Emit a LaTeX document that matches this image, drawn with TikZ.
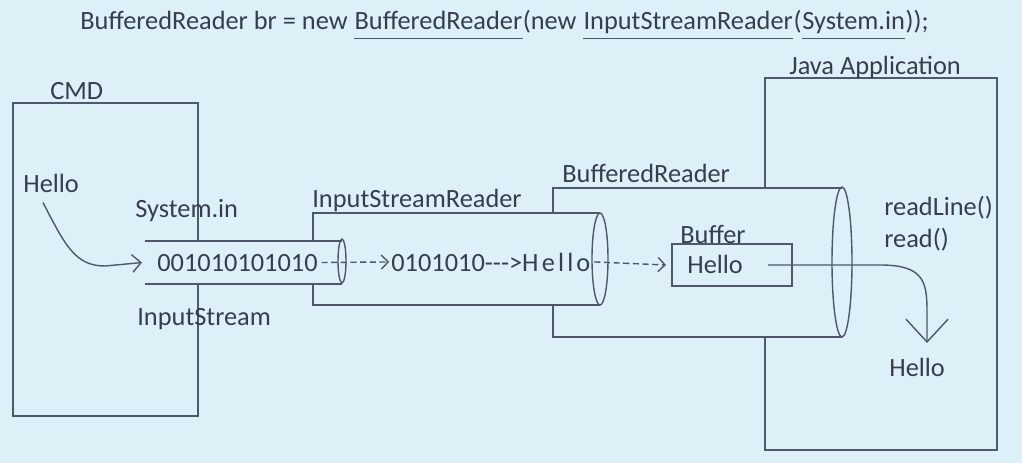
\documentclass[tikz,border=0pt]{standalone}
\usepackage{fontspec}
\setmainfont{Carlito}
\usetikzlibrary{arrows.meta,positioning,calc}
\definecolor{slidebg}{HTML}{DDF0F8}
\definecolor{penline}{HTML}{4E576B}
\definecolor{pentext}{HTML}{363D4D}

\begin{document}
\begin{tikzpicture}[
    x=0.02cm, y=-0.02cm,
    txt/.style={inner sep=0pt, anchor=base west, text=pentext,
                font=\fontsize{15}{18}\selectfont},
    wire/.style={penline, line width=0.8pt},
    flow/.style={wire, dash pattern=on 3.5pt off 2pt,
                 -{Straight Barb[length=4pt, width=8pt]}},
    bufbox/.style={draw=penline, line width=0.8pt, inner sep=0pt,
                   minimum width=2.4cm, minimum height=0.84cm},
]
% Slide
\fill[slidebg] (0,0) rectangle (1022,463);
\useasboundingbox (0,0) rectangle (1022,463);

% Code line
\node[txt] (t1) at (80,30) {BufferedReader br = new};
\node[txt] (t2) at ([xshift=3.6pt]t1.base east) {BufferedReader};
\node[txt] (t3) at (t2.base east) {(new};
\node[txt] (t4) at ([xshift=3.6pt]t3.base east) {InputStreamReader};
\node[txt] (t5) at (t4.base east) {(};
\node[txt] (t6) at (t5.base east) {System.in};
\node[txt] (t7) at (t6.base east) {));};
\foreach \part in {t2,t4,t6}
  \draw[wire] ([yshift=-5pt]\part.base west) -- ([yshift=-5pt]\part.base east);

% CMD box (hidden where the stream passes)
\draw[wire] (198,241) -- (198,103) -- (13,103) -- (13,416) -- (198,416) -- (198,284);
\node[txt] (cmd) at (50,99) {CMD};
\node[txt] (hello1) at (23,192) {Hello};

% Java Application box
\draw[wire] (765,187) -- (765,78) -- (997,78) -- (997,450) -- (765,450) -- (765,337);
\node[txt] (javaapp) at (789,74) {Java Application};
\node[txt] (readline) at (884,215) {readLine()};
\node[txt] (readch) at (884,247) {read()};
\node[txt] (hello3) at (889,376) {Hello};

% System.in tube
\draw[wire] (145,241) -- (342,241);
\draw[wire] (145,284) -- (342,284);
\draw[wire] (342,261) ellipse [x radius=4, y radius=22];
\node[txt] (sysin) at (135,217) {System.in};
\node[txt] (instream) at (137,325) {InputStream};

% InputStreamReader tube
\draw[wire] (313,241) -- (313,213) -- (600,213);
\draw[wire] (313,284) -- (313,305) -- (600,305);
\draw[wire] (600,259) ellipse [x radius=8, y radius=46];
\node[txt] (isr) at (312,207) {InputStreamReader};

% BufferedReader tube
\draw[wire] (553,213) -- (553,188) -- (842,188);
\draw[wire] (553,305) -- (553,337) -- (842,337);
\draw[wire] (842,262) ellipse [x radius=10, y radius=75];
\node[txt] (br) at (562,182) {BufferedReader};

% Buffer
\node[bufbox] (buffer) at (732,265) {};
\node[txt] (buflbl) at (680,243) {Buffer};
\node[txt] (bufhello) at (687,273) {Hello};

% Data flow
\node[txt] (bits) at (157,271) {001010101010};
\node[txt] (chars) at (391,271)
  {0101010-{}-{}->H\hspace{1.8pt}e\hspace{1.8pt}l\hspace{1.8pt}l\hspace{1.8pt}o};
\draw[wire, -{Straight Barb[length=5pt, width=10pt]}]
  ([xshift=0.4cm, yshift=-0.2cm]hello1.south west)
  .. controls (65,245) and (75,266) .. (105,266) -- ([xshift=-0.3cm]bits.west);
\draw[flow] ([xshift=2pt]bits.east) -- ([xshift=-1pt]chars.west);
\draw[flow] ([xshift=2pt]chars.east) -- ([xshift=-3pt]buffer.west);
\coordinate (bufout) at (768,265);
\coordinate (drop) at (927,343);
\draw[wire, -{Straight Barb[length=13pt, width=24pt]}]
  (bufout) -- (880,265) .. controls (922,265) and (927,280) .. (927,310) -- (drop);
\end{tikzpicture}
\end{document}
